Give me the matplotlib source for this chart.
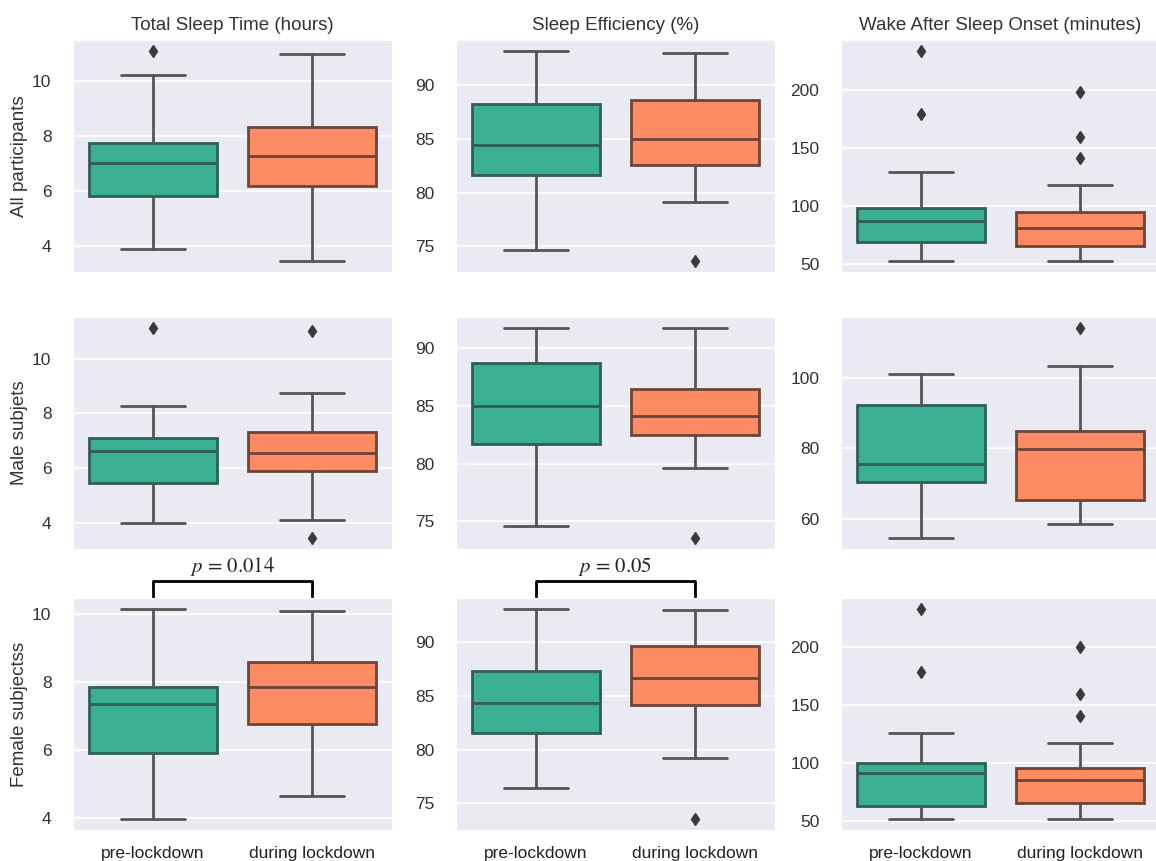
import matplotlib.pyplot as plt
import seaborn as sns
from matplotlib.ticker import MultipleLocator

# estilo seaborn tipo darkgrid
sns.set_style('darkgrid')
plt.rcParams['font.family'] = ['Liberation Sans', 'DejaVu Sans']
plt.rcParams['mathtext.fontset'] = 'stix'

groups = ['pre-lockdown', 'during lockdown']
metrics = ['Total Sleep Time (hours)', 'Sleep Efficiency (%)', 'Wake After Sleep Onset (minutes)']
rows = ['All participants', 'Male subjets', 'Female subjectss']

# [whislo, q1, mediana, q3, whishi]
tst_all_pre = [3.90, 5.82, 7.04, 7.75, 10.23]
tst_all_dur = [3.44, 6.17, 7.27, 8.32, 10.99]
tst_all_pre_out = [11.12]
tst_all_dur_out = []

se_all_pre = [74.7, 81.6, 84.4, 88.2, 93.2]
se_all_dur = [79.1, 82.6, 85.0, 88.6, 93.0]
se_all_pre_out = []
se_all_dur_out = [73.6]

waso_all_pre = [52.0, 68.5, 86.5, 97.7, 128.6]
waso_all_dur = [52.0, 65.0, 81.0, 94.8, 117.5]
waso_all_pre_out = [233.6, 179.0]
waso_all_dur_out = [198.3, 159.0, 141.0]

tst_male_pre = [3.99, 5.48, 6.64, 7.12, 8.28]
tst_male_dur = [4.12, 5.90, 6.55, 7.32, 8.75]
tst_male_pre_out = [11.13]
tst_male_dur_out = [11.01, 3.44]

se_male_pre = [74.6, 81.7, 85.0, 88.7, 91.8]
se_male_dur = [79.6, 82.5, 84.1, 86.5, 91.8]
se_male_pre_out = []
se_male_dur_out = [73.5]

waso_male_pre = [54.4, 70.6, 75.7, 92.5, 101.3]
waso_male_dur = [58.5, 65.4, 79.8, 85.0, 103.6]
waso_male_pre_out = []
waso_male_dur_out = [114.4]

tst_fem_pre = [3.97, 5.91, 7.35, 7.87, 10.17]
tst_fem_dur = [4.67, 6.78, 7.86, 8.60, 10.11]
tst_fem_pre_out = []
tst_fem_dur_out = []

se_fem_pre = [76.4, 81.5, 84.3, 87.3, 93.1]
se_fem_dur = [79.2, 84.1, 86.6, 89.6, 93.0]
se_fem_pre_out = []
se_fem_dur_out = [73.5]

waso_fem_pre = [51.3, 63.2, 91.6, 100.3, 126.3]
waso_fem_dur = [51.3, 65.2, 85.5, 95.7, 117.5]
waso_fem_pre_out = [233.3, 178.3]
waso_fem_dur_out = [199.7, 159.2, 140.3]

# paso de los ticks del eje y por panel
tick_steps = [[2, 5, 50], [2, 5, 20], [2, 5, 50]]

# anotaciones de significancia (fila, columna, texto)
p_values = [(2, 0, '$p$ = 0.014'), (2, 1, '$p$ = 0.05')]

panels = [
    [(tst_all_pre, tst_all_pre_out, tst_all_dur, tst_all_dur_out),
     (se_all_pre, se_all_pre_out, se_all_dur, se_all_dur_out),
     (waso_all_pre, waso_all_pre_out, waso_all_dur, waso_all_dur_out)],
    [(tst_male_pre, tst_male_pre_out, tst_male_dur, tst_male_dur_out),
     (se_male_pre, se_male_pre_out, se_male_dur, se_male_dur_out),
     (waso_male_pre, waso_male_pre_out, waso_male_dur, waso_male_dur_out)],
    [(tst_fem_pre, tst_fem_pre_out, tst_fem_dur, tst_fem_dur_out),
     (se_fem_pre, se_fem_pre_out, se_fem_dur, se_fem_dur_out),
     (waso_fem_pre, waso_fem_pre_out, waso_fem_dur, waso_fem_dur_out)],
]

colors = ['#3aaf93', '#fc8b63']
edge_colors = ['#2f5f53', '#6e4438']
line_color = '#555555'


def make_stats(five, out, label):
    return dict(whislo=five[0], q1=five[1], med=five[2], q3=five[3],
                whishi=five[4], fliers=out, label=label)


fig = plt.figure(figsize=(11.56, 8.61), dpi=100)

W, H = 1156.0, 861.0
col_left = [73, 456, 841]
col_width = 319
row_top = [40, 317, 598]
row_height = 232

for r in range(3):
    for c in range(3):
        ax = fig.add_axes([col_left[c] / W, 1 - (row_top[r] + row_height) / H,
                           col_width / W, row_height / H])
        pre, pre_out, dur, dur_out = panels[r][c]
        st = [make_stats(pre, pre_out, groups[0]), make_stats(dur, dur_out, groups[1])]
        res = ax.bxp(st, positions=[0, 1], widths=0.8, patch_artist=True,
                     showfliers=True,
                     whiskerprops=dict(color=line_color, linewidth=2),
                     capprops=dict(color=line_color, linewidth=2),
                     flierprops=dict(marker='d', markersize=6,
                                     markerfacecolor='#3a3a3a',
                                     markeredgecolor='#3a3a3a'))
        for i, box in enumerate(res['boxes']):
            box.set_facecolor(colors[i])
            box.set_edgecolor(edge_colors[i])
            box.set_linewidth(2)
        for i, med in enumerate(res['medians']):
            med.set_color(edge_colors[i])
            med.set_linewidth(2)

        ax.set_xlim(-0.5, 1.5)
        ax.yaxis.set_major_locator(MultipleLocator(tick_steps[r][c]))
        ax.xaxis.grid(False)
        ax.yaxis.grid(True, color='white', linewidth=1.3)
        ax.tick_params(axis='y', labelsize=12.5, pad=12, colors='#333333')
        ax.tick_params(axis='x', labelsize=12.5, pad=8, colors='#222222')
        if r == 2:
            ax.set_xticks([0, 1])
            ax.set_xticklabels(groups)
        else:
            ax.set_xticks([])
        if r == 0:
            ax.set_title(metrics[c], fontsize=13.5, color='#333333', pad=7)
        if c == 0:
            ax.set_ylabel(rows[r], fontsize=13.5, color='#333333', labelpad=3)

        for (pr, pc, txt) in p_values:
            if pr == r and pc == c:
                trans = ax.get_xaxis_transform()
                ax.plot([0, 0, 1, 1], [1.005, 1.075, 1.075, 1.005], color='black',
                        linewidth=2, transform=trans, clip_on=False)
                ax.text(0.5, 1.135, txt, transform=trans, ha='center', va='center',
                        fontsize=15, family='STIXGeneral')

plt.savefig('out.png', dpi=100)
plt.close()
